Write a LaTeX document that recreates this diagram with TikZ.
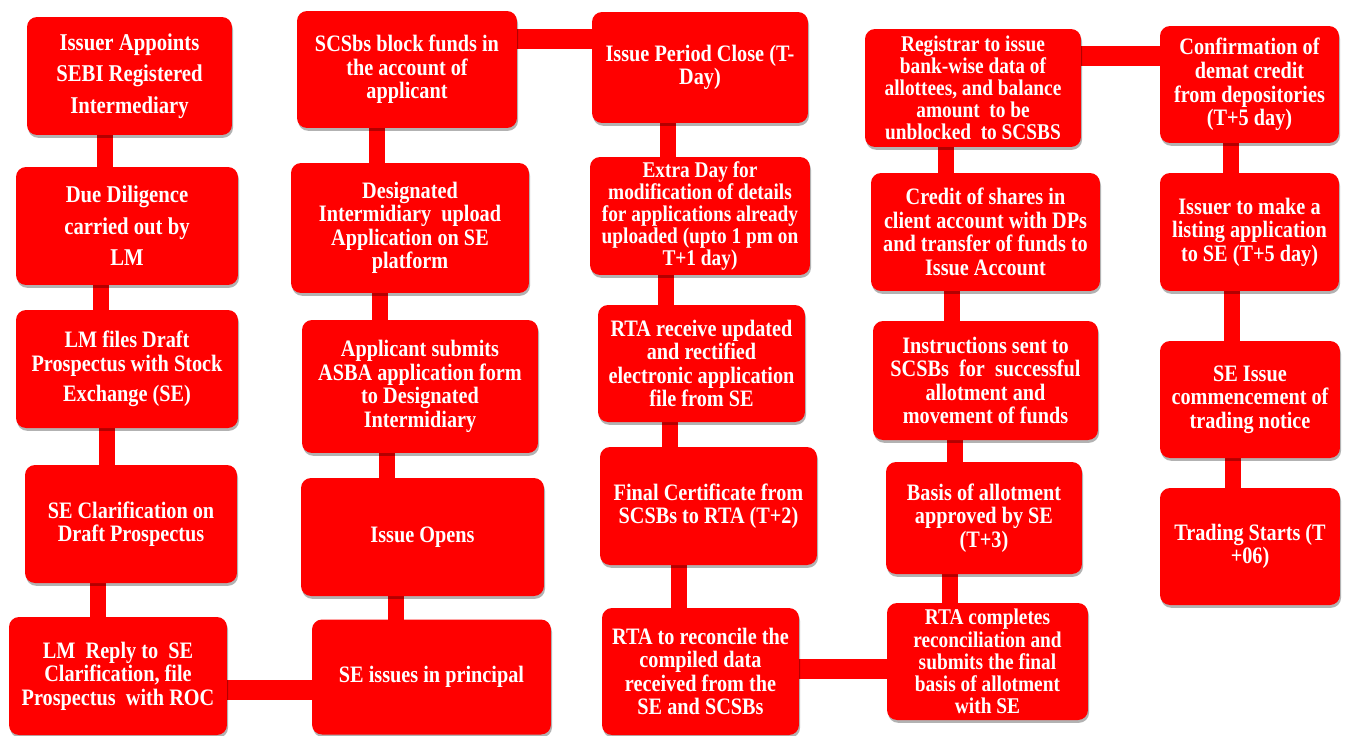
\documentclass[tikz,border=0pt]{standalone}
\usepackage{fontspec}
\setmainfont{Liberation Serif}[FakeStretch=0.86]
\usepackage{tikz}
\usetikzlibrary{shadows, backgrounds}
\tikzset{
    stage/.style={rectangle, rounded corners=0.2cm, fill=red, text=white, align=center, inner sep=0pt,
        font=\bfseries\fontsize{13.4}{13.4}\selectfont,
        drop shadow={shadow xshift=0.6pt, shadow yshift=-1.6pt, opacity=0.3, fill=black}},
    tight/.style={font=\bfseries\fontsize{12.8}{12.6}\selectfont},
    loose/.style={font=\bfseries\fontsize{13.7}{18}\selectfont},
    vbar/.style={draw=red, line width=0.32cm},
    hbar/.style={draw=red, line width=0.4cm}
}
\begin{document}
\begin{tikzpicture}[x=0.02cm, y=-0.02cm]
        \useasboundingbox (0,0) rectangle (1349,735);

        % Column 1
        \node[stage, loose, minimum width=4.10cm, minimum height=2.36cm] (appoint) at (129.5,76) {Issuer Appoints\\SEBI Registered\\Intermediary};
        \node[stage, loose, minimum width=4.44cm, minimum height=2.36cm] (diligence) at (127,226) {Due Diligence\\carried out by\\LM};
        \node[stage, minimum width=4.44cm, minimum height=2.36cm] (draft) at (127,369) {LM files Draft\\Prospectus with Stock\\[4pt]Exchange (SE)};
        \node[stage, minimum width=4.24cm, minimum height=2.36cm] (clarify) at (131,524) {SE Clarification on\\Draft Prospectus};
        \node[stage, minimum width=4.36cm, minimum height=2.36cm] (reply) at (118,676) {LM\ \ Reply to\ \ SE\\Clarification, file\\Prospectus\ \ with ROC};

        % Column 2
        \node[stage, minimum width=4.78cm, minimum height=2.30cm] (principal) at (431.5,677) {SE issues in principal};
        \node[stage, minimum width=4.86cm, minimum height=2.36cm] (opens) at (422.5,537) {Issue Opens};
        \node[stage, minimum width=4.72cm, minimum height=2.66cm] (submit) at (420,386.5) {Applicant submits\\ASBA application form\\to Designated\\Intermidiary};
        \node[stage, minimum width=4.76cm, minimum height=2.60cm] (upload) at (410,228) {Designated\\Intermidiary\ \ upload\\Application on SE\\platform};
        \node[stage, minimum width=4.40cm, minimum height=2.34cm] (block) at (407,69.5) {SCSbs block funds in\\the account of\\applicant};

        % Column 3
        \node[stage, minimum width=4.32cm, minimum height=2.22cm] (close) at (700,67.5) {Issue Period Close (T-\\Day)};
        \node[stage, tight, minimum width=4.40cm, minimum height=2.36cm] (extra) at (700,216) {Extra Day for\\modification of details\\for applications already\\uploaded (upto 1 pm on\\T+1 day)};
        \node[stage, minimum width=4.14cm, minimum height=2.34cm] (receive) at (701.5,363.5) {RTA receive updated\\and rectified\\electronic application\\file from SE};
        \node[stage, minimum width=4.34cm, minimum height=2.36cm] (certificate) at (708.5,506) {Final Certificate from\\SCSBs to RTA (T+2)};
        \node[stage, minimum width=3.94cm, minimum height=2.54cm] (reconcile) at (700.5,671.5) {RTA to reconcile the\\compiled data\\received from the\\SE and SCSBs};

        % Column 4
        \node[stage, tight, minimum width=4.02cm, minimum height=2.34cm] (complete) at (987.5,661.5) {RTA completes\\reconciliation and\\submits the final\\basis of allotment\\with SE};
        \node[stage, minimum width=3.92cm, minimum height=2.24cm] (basis) at (984,518) {Basis of allotment\\approved by SE\\(T+3)};
        \node[stage, minimum width=4.50cm, minimum height=2.38cm] (instruct) at (985.5,380.5) {Instructions sent to\\SCSBs\ \ for\ \ successful\\allotment and\\movement of funds};
        \node[stage, minimum width=4.58cm, minimum height=2.36cm] (credit) at (985.5,232) {Credit of shares in\\client account with DPs\\and transfer of funds to\\Issue Account};
        \node[stage, tight, minimum width=4.32cm, minimum height=2.36cm] (registrar) at (973,88) {Registrar to issue\\bank-wise data of\\allottees, and balance\\amount\ \ to be\\unblocked\ \ to SCSBS};

        % Column 5
        \node[stage, minimum width=3.58cm, minimum height=2.34cm] (confirm) at (1249.5,84.5) {Confirmation of\\demat credit\\from depositories\\(T+5 day)};
        \node[stage, minimum width=3.58cm, minimum height=2.36cm] (listing) at (1249.5,232) {Issuer to make a\\listing application\\to SE (T+5 day)};
        \node[stage, minimum width=3.60cm, minimum height=2.34cm] (notice) at (1250,399.5) {SE Issue\\commencement of\\trading notice};
        \node[stage, minimum width=3.60cm, minimum height=2.34cm] (trading) at (1250,546.5) {Trading Starts (T\\+06)};

        % Connections
        \begin{scope}[on background layer]
        \draw[vbar] ([xshift=-0.49cm]appoint.center) -- ([xshift=-0.49cm]appoint.center |- diligence.center);
        \draw[vbar] ([xshift=-0.52cm]diligence.center) -- ([xshift=-0.52cm]diligence.center |- draft.center);
        \draw[vbar] ([xshift=-0.40cm]draft.center) -- ([xshift=-0.40cm]draft.center |- clarify.center);
        \draw[vbar] ([xshift=-0.66cm]clarify.center) -- ([xshift=-0.66cm]clarify.center |- reply.center);
        \draw[hbar] ([yshift=-0.28cm]reply.center) -- ([yshift=-0.28cm]reply.center -| principal.center);

        \draw[vbar] ([xshift=-0.53cm]opens.center) -- ([xshift=-0.53cm]opens.center |- principal.center);
        \draw[vbar] ([xshift=-0.66cm]submit.center) -- ([xshift=-0.66cm]submit.center |- opens.center);
        \draw[vbar] ([xshift=-0.60cm]upload.center) -- ([xshift=-0.60cm]upload.center |- submit.center);
        \draw[vbar] ([xshift=-0.60cm]block.center) -- ([xshift=-0.60cm]block.center |- upload.center);
        \draw[hbar] ([yshift=0.61cm]block.center) -- ([yshift=0.61cm]block.center -| close.center);

        \draw[vbar] ([xshift=-0.64cm]close.center) -- ([xshift=-0.64cm]close.center |- extra.center);
        \draw[vbar] ([xshift=-0.68cm]extra.center) -- ([xshift=-0.68cm]extra.center |- receive.center);
        \draw[vbar] ([xshift=-0.63cm]receive.center) -- ([xshift=-0.63cm]receive.center |- certificate.center);
        \draw[vbar] ([xshift=-0.59cm]certificate.center) -- ([xshift=-0.59cm]certificate.center |- reconcile.center);
        \draw[hbar] ([yshift=0.05cm]reconcile.center) -- ([yshift=0.05cm]reconcile.center -| complete.center);

        \draw[vbar] ([xshift=-0.68cm]basis.center) -- ([xshift=-0.68cm]basis.center |- complete.center);
        \draw[vbar] ([xshift=-0.61cm]instruct.center) -- ([xshift=-0.61cm]instruct.center |- basis.center);
        \draw[vbar] ([xshift=-0.67cm]credit.center) -- ([xshift=-0.67cm]credit.center |- instruct.center);
        \draw[vbar] ([xshift=-0.54cm]registrar.center) -- ([xshift=-0.54cm]registrar.center |- credit.center);
        \draw[hbar] ([yshift=0.64cm]registrar.center) -- ([yshift=0.64cm]registrar.center -| confirm.center);

        \draw[vbar] ([xshift=-0.37cm]confirm.center) -- ([xshift=-0.37cm]confirm.center |- listing.center);
        \draw[vbar] ([xshift=-0.35cm]listing.center) -- ([xshift=-0.35cm]listing.center |- notice.center);
        \draw[vbar] ([xshift=-0.34cm]notice.center) -- ([xshift=-0.34cm]notice.center |- trading.center);
        \end{scope}
\end{tikzpicture}
\end{document}
